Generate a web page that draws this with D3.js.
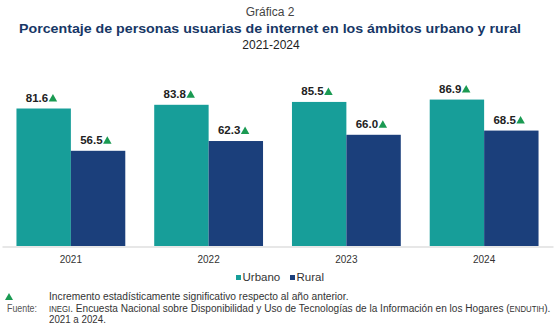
<!DOCTYPE html>
<html><head><meta charset="utf-8">
<script src="https://cdn.jsdelivr.net/npm/d3@7"></script>
<style>body{margin:0;background:#fff}svg{display:block}</style>
</head><body>
<script>
const years = ["2021","2022","2023","2024"];
const seriesNames = ["Urbano","Rural"];
const urbano = [81.6, 83.8, 85.5, 86.9];
const rural = [56.5, 62.3, 66.0, 68.5];
const colors = ["#179e99", "#1b3f7b"];

const W = 560, H = 328;
const svg = d3.select("body").append("svg").attr("width", W).attr("height", H);
const F = "'Liberation Sans', Arial, sans-serif";
const FN = "'Liberation Sans Narrow', 'Arial Narrow', 'Liberation Sans', sans-serif";

// titles
svg.append("text").attr("x",270).attr("y",16).attr("text-anchor","middle")
  .attr("font-family",F).attr("font-size",12).attr("fill","#444").text("Gráfica 2");
svg.append("text").attr("x",270).attr("y",32.5).attr("text-anchor","middle")
  .attr("font-family",F).attr("font-size",13).attr("font-weight","bold").attr("fill","#173766")
  .attr("textLength",502).attr("lengthAdjust","spacingAndGlyphs")
  .text("Porcentaje de personas usuarias de internet en los ámbitos urbano y rural");
svg.append("text").attr("x",271).attr("y",49).attr("text-anchor","middle")
  .attr("font-family",F).attr("font-size",12).attr("fill","#222").text("2021-2024");

const x0 = d3.scaleBand().domain(years).range([2,553]).paddingInner(0.21).paddingOuter(0.105);
const x1 = d3.scaleBand().domain(seriesNames).range([0, x0.bandwidth()]);
const y = d3.scaleLinear().domain([0,100]).range([246, 77.5]);

const data = years.map((yr,i)=>({year:yr, values:[urbano[i], rural[i]]}));

const g = svg.append("g");
const groups = g.selectAll("g.yr").data(data).join("g").attr("class","yr")
  .attr("transform", d=>`translate(${x0(d.year)},0)`);
groups.selectAll("rect").data(d=>d.values.map((v,j)=>({s:seriesNames[j], v, j})))
  .join("rect")
  .attr("x", d=>x1(d.s)).attr("width", x1.bandwidth())
  .attr("y", d=>y(d.v)).attr("height", d=>y(0)-y(d.v))
  .attr("fill", d=>colors[d.j]);

// value labels with triangles
const lab = groups.selectAll("g.lab").data(d=>d.values.map((v,j)=>({s:seriesNames[j], v, j})))
  .join("g").attr("class","lab")
  .attr("transform", d=>`translate(${x1(d.s)+x1.bandwidth()/2},${y(d.v)-7})`);
lab.append("text").attr("x",4.5).attr("text-anchor","end")
  .attr("font-family",F).attr("font-size",11.5).attr("font-weight","bold").attr("fill","#222")
  .text(d=>d.v.toFixed(1));
lab.append("path").attr("d","M5,0 L13.5,0 L9.25,-7.5 Z").attr("fill","#1a9a52");

// axis
const xAxis = d3.axisBottom(x0).tickSize(0).tickPadding(9);
const ax = svg.append("g").attr("transform","translate(0,246.5)").call(xAxis);
ax.select(".domain").attr("stroke","#cfcfcf").attr("stroke-width",1);
ax.selectAll("text").attr("font-family",F).attr("font-size",10).attr("fill","#333");

// legend
const leg = svg.append("g").attr("transform","translate(0,281)");
const legX = [236, 290];
seriesNames.forEach((s,i)=>{
  leg.append("rect").attr("x",legX[i]).attr("y",-6).attr("width",5).attr("height",5).attr("fill",colors[i]);
  leg.append("text").attr("x",legX[i]+6.5).attr("y",0).attr("font-family",F).attr("font-size",11.5)
    .attr("fill","#333").text(s);
});

// footnotes (horizontally compressed to mimic a narrow face)
function fitText(sel, targetW){
  const w = sel.node().getComputedTextLength();
  const sx = targetW / w;
  sel.attr("transform", sel.attr("data-tr") + ` scale(${sx},1)`);
}
svg.append("path").attr("d","M5,300 L13,300 L9,293 Z").attr("fill","#1a9a52");
const inc = svg.append("text").attr("data-tr","translate(49,300)").attr("font-family",FN).attr("font-size",11)
  .attr("fill","#333").text("Incremento estadísticamente significativo respecto al año anterior.");
fitText(inc, 300);
const fu = svg.append("text").attr("data-tr","translate(7,312)").attr("font-family",FN).attr("font-size",11)
  .attr("fill","#555").text("Fuente:");
fitText(fu, 30);
const src = svg.append("text").attr("data-tr","translate(49,312)").attr("font-family",FN).attr("font-size",11)
  .attr("fill","#333");
src.append("tspan").attr("font-size",8.5).text("INEGI");
src.append("tspan").text(". Encuesta Nacional sobre Disponibilidad y Uso de Tecnologías de la Información en los Hogares (");
src.append("tspan").attr("font-size",8.5).text("ENDUTIH");
src.append("tspan").text(").");
fitText(src, 502);
const yr = svg.append("text").attr("data-tr","translate(49,323)").attr("font-family",FN).attr("font-size",11)
  .attr("fill","#333").text("2021 a 2024.");
fitText(yr, 57);
</script>
</body></html>
